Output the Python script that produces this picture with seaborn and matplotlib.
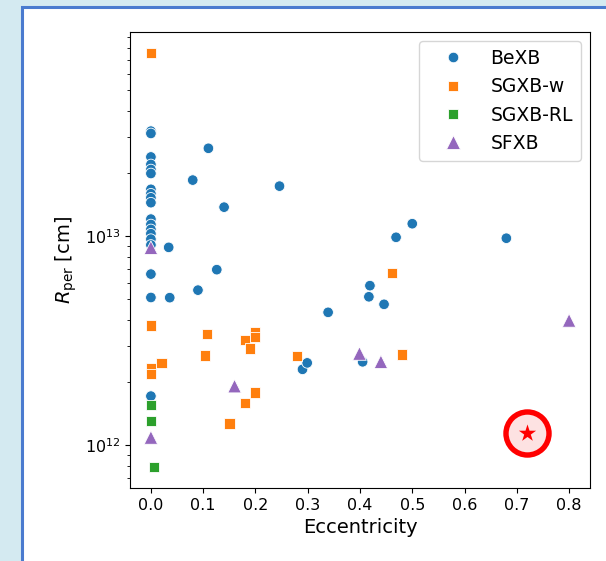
import matplotlib
matplotlib.use("Agg")
import matplotlib.pyplot as plt
from matplotlib.patches import Rectangle
import pandas as pd
import seaborn as sns

# Binary classes
classes = ["BeXB", "SGXB-w", "SGXB-RL", "SFXB"]

# Be X-ray binaries: eccentricity and periastron distance [cm]
bexb_ecc = [0, 0, 0, 0, 0, 0, 0, 0, 0, 0, 0, 0, 0, 0, 0, 0, 0, 0, 0,
            0.034, 0.036, 0.080, 0.090, 0.110, 0.126, 0.140, 0.246, 0.290,
            0.299, 0.339, 0.405, 0.417, 0.419, 0.446, 0.469, 0.500, 0.680]
bexb_rper = [3.19e13, 3.11e13, 2.40e13, 2.21e13, 2.09e13, 2.00e13, 1.68e13,
             1.60e13, 1.53e13, 1.45e13, 1.21e13, 1.14e13, 1.08e13, 1.03e13,
             9.7e12, 9.1e12, 6.6e12, 5.1e12, 1.72e12,
             8.86e12, 5.09e12, 1.86e13, 5.53e12, 2.64e13, 6.93e12, 1.38e13,
             1.74e13, 2.31e12, 2.48e12, 4.33e12, 2.51e12, 5.14e12, 5.81e12,
             4.73e12, 9.9e12, 1.15e13, 9.8e12]

# Wind-fed supergiant X-ray binaries
sgw_ecc = [0, 0, 0, 0, 0.020, 0.103, 0.107, 0.150, 0.180, 0.180, 0.189,
           0.199, 0.199, 0.199, 0.279, 0.461, 0.480]
sgw_rper = [7.57e13, 3.74e12, 2.34e12, 2.19e12, 2.48e12, 2.69e12, 3.42e12,
            1.27e12, 3.19e12, 1.59e12, 2.91e12, 3.46e12, 3.31e12, 1.79e12,
            2.68e12, 6.67e12, 2.72e12]

# Roche-lobe overflow supergiant X-ray binaries
sgrl_ecc = [0, 0, 0.006]
sgrl_rper = [1.56e12, 1.31e12, 7.85e11]

# Supergiant fast X-ray transients
sfxb_ecc = [0, 0, 0.160, 0.399, 0.440, 0.800]
sfxb_rper = [8.83e12, 1.09e12, 1.92e12, 2.75e12, 2.51e12, 3.96e12]

# Highlighted source
star_ecc = [0.72]
star_rper = [1.15e12]

df = pd.concat([
    pd.DataFrame({"ecc": bexb_ecc, "rper": bexb_rper, "type": "BeXB"}),
    pd.DataFrame({"ecc": sgw_ecc, "rper": sgw_rper, "type": "SGXB-w"}),
    pd.DataFrame({"ecc": sgrl_ecc, "rper": sgrl_rper, "type": "SGXB-RL"}),
    pd.DataFrame({"ecc": sfxb_ecc, "rper": sfxb_rper, "type": "SFXB"}),
], ignore_index=True)

palette = {"BeXB": "#1f77b4", "SGXB-w": "#ff7f0e",
           "SGXB-RL": "#2ca02c", "SFXB": "#9467bd"}
markers = {"BeXB": "o", "SGXB-w": "s", "SGXB-RL": "s", "SFXB": "^"}
msizes = {"BeXB": 58, "SGXB-w": 56, "SGXB-RL": 56, "SFXB": 95}

W, H = 606, 561
fig = plt.figure(figsize=(W / 100, H / 100), dpi=100, facecolor="#d4eaf1")

# White panel with a blue frame, kept behind the axes
panel = Rectangle((21.5 / W, -0.05), 1.1, 1 - 6.5 / H + 0.05,
                  transform=fig.transFigure, facecolor="white",
                  edgecolor="#4a7bcf", linewidth=2.2)
panel.set_zorder(-10)
fig.patches.append(panel)

ax = fig.add_axes([130 / W, 1 - 488 / H, 460 / W, 456 / H])
ax.set_zorder(1)
ax.set_yscale("log")

sns.scatterplot(data=df, x="ecc", y="rper", hue="type", style="type",
                size="type", hue_order=classes, style_order=classes,
                size_order=classes, sizes=msizes,
                palette=palette, markers=markers, ax=ax)

ax.scatter(star_ecc, star_rper, s=960, facecolor="#fde2e2",
           edgecolor="red", linewidth=3.9, zorder=4)
ax.scatter(star_ecc, star_rper, s=170, marker="*", color="red",
           linewidth=0, zorder=5)

ax.set_xticks([0.0, 0.1, 0.2, 0.3, 0.4, 0.5, 0.6, 0.7, 0.8])
ax.tick_params(axis="both", which="major", labelsize=11.5)
ax.set_xlabel("Eccentricity", fontsize=14)
ax.set_ylabel(r"$R_{\rm per}$ [cm]", fontsize=14)

handles, labels = ax.get_legend_handles_labels()
ax.legend(handles, labels, loc="upper right", fontsize=13.5,
          handlelength=2.8, handletextpad=0.6)

fig.savefig("out.png", dpi=100, facecolor=fig.get_facecolor())
